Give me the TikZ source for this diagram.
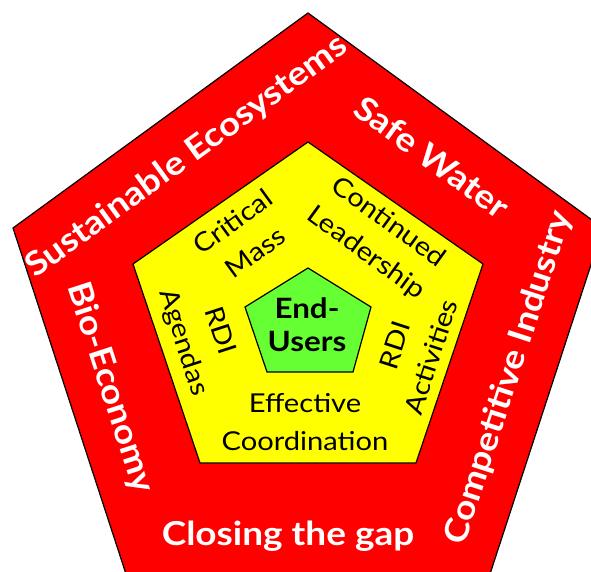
\documentclass[tikz,border=0pt]{standalone}
\usepackage{fontspec}
\setmainfont[FakeStretch=1.12]{Lato}
\definecolor{ringred}{RGB}{255,0,0}
\definecolor{coreyellow}{RGB}{255,255,0}
\definecolor{usergreen}{RGB}{102,255,51}

\begin{document}
\begin{tikzpicture}[x=1pt, y=-1pt, every node/.style={align=center, inner sep=0pt}, outerlabel/.style={text=white, font=\fontsize{33}{36}\selectfont\bfseries}, innerlabel/.style={font=\fontsize{26}{38}\selectfont}, pentagon/.style={draw=black, line width=1.2pt, line join=miter}]

\useasboundingbox (0,0) rectangle (591,572);

% Pentagons
\draw[pentagon, fill=ringred] (308,13) -- (603,228) -- (490,574) -- (126,574) -- (13,228) -- cycle;
\draw[pentagon, fill=coreyellow] (308,142) -- (483,264) -- (416,463) -- (200,463) -- (133,264) -- cycle;
\draw[pentagon, fill=usergreen] (308,268) -- (371,307) -- (353,372) -- (267,372) -- (245,307) -- cycle;

% Outer goals
\node[outerlabel, rotate=36] (ecosystems) at (187,157) {Sustainable Ecosystems};
\node[outerlabel, rotate=-36] (water) at (432,157) {Safe Water};
\node[outerlabel, rotate=72] (industry) at (509,378) {Competitive Industry};
\node[outerlabel] (gap) at (288,536) {Closing the gap};
\node[outerlabel, rotate=-72] (bioeconomy) at (110,388) {Bio-Economy};

% Inner enablers
\node[innerlabel, rotate=36] (mass) at (244,237) {Critical\\Mass};
\node[innerlabel, rotate=-36] (leadership) at (377,238) {Continued\\Leadership};
\node[innerlabel, rotate=-72] (agendas) at (201,337) {RDI\\Agendas};
\node[innerlabel, rotate=72] (activities) at (413,351) {RDI\\Activities};
\node[innerlabel] (coordination) at (305,422) {Effective\\Coordination};

% Core
\node[font=\fontsize{28}{33}\selectfont\bfseries] (users) at (307,325) {End-\\Users};

\end{tikzpicture}
\end{document}
